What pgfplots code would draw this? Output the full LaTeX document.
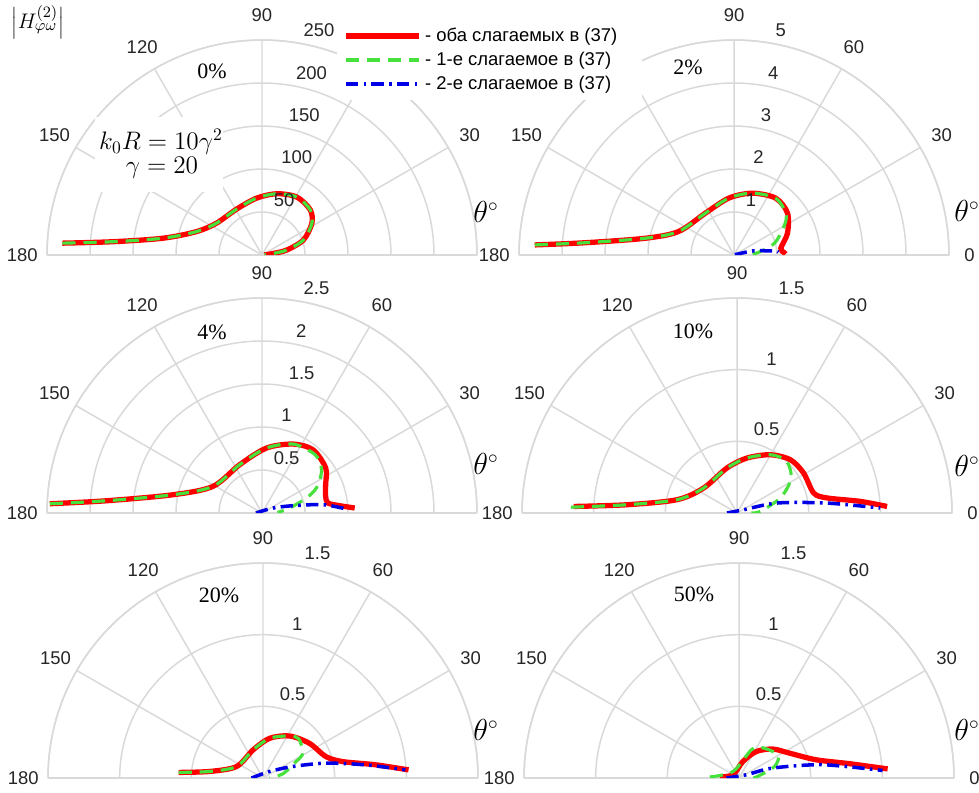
\documentclass[border=0pt]{standalone}
\usepackage{fontspec}
\setmainfont{Liberation Sans}
\newfontfamily\serif{Liberation Serif}
\usepackage{pgfplots}
\pgfplotsset{compat=1.18}
\usepgfplotslibrary{polar}

\newlength\px
\setlength\px{0.02cm}

\definecolor{gridgray}{RGB}{217,217,217}
\definecolor{ticktext}{RGB}{38,38,38}
\definecolor{cred}{RGB}{255,0,0}
\definecolor{cgreen}{RGB}{70,225,60}
\definecolor{cblue}{RGB}{0,0,230}

\newcommand\tickfont{\fontsize{10.5}{12}\selectfont}

\pgfplotsset{
  panel/.style={
    scale only axis, width=430\px, height=430\px, anchor=origin,
    xmin=0, xmax=180, ymin=0,
    xtick={0,30,...,180},
    xticklabels={}, yticklabels={},
    xmajorgrids, ymajorgrids,
    major grid style={draw=gridgray, line width=0.85pt},
    axis line style={draw=gridgray, line width=0.85pt},
    major tick length=0pt, minor tick length=0pt,
    clip mode=individual,
  },
  bothline/.style={draw=cred, line width=3pt, smooth, mark=none},
  first/.style={draw=cgreen, line width=1.8pt, dash pattern=on 7.5pt off 4.5pt, smooth, mark=none},
  second/.style={draw=cblue, line width=2pt, dash pattern=on 7pt off 3pt on 1.5pt off 3pt, smooth, mark=none},
}

% angle labels around the rim, #1 = rim radius in data units
\newcommand\anglabels[1]{%
  \pgfplotsinvokeforeach{30,60,90,120,150,180}{%
    \node[text=ticktext, font=\tickfont] at (axis cs:##1,{#1*1.115}) {##1};}}
\newcommand\zerolabel[1]{%
  \node[text=ticktext, font=\tickfont] at (axis cs:0,{#1*1.095}) {0};}
% radial labels along the 80 degree spoke
\newcommand\radlabels[1]{%
  \pgfplotsinvokeforeach{#1}{%
    \node[text=ticktext, font=\tickfont, anchor=south west, inner sep=0pt,
      xshift=4\px, yshift=6\px] at (axis cs:80,##1) {##1};}}

\begin{document}
\begin{tikzpicture}
\useasboundingbox (0,0) rectangle (979\px,-792\px);

% ---- 0% ----
\begin{polaraxis}[panel, at={(262\px,-255\px)}, ymax=250, ytick={50,100,150,200,250}]
  \addplot[bothline] coordinates {(176.6,232.5) (174.9,174) (170.4,117) (160.4,81) (145,64.6) (119,61) (95.3,66.5) (76.4,73.3) (59,78.6) (43.2,76.9) (32.5,68.8) (20,51.3) (11.4,29.4) (8,13) (3,3)};
  \addplot[first] coordinates {(176.6,232.5) (174.9,174) (170.4,117) (160.4,81) (145,64.6) (119,61) (95.3,66.5) (76.4,73.3) (59,78.6) (43.2,76.9) (32.5,68.8) (20,51.3) (11.4,29.4) (8,13) (3,3)};
  \anglabels{250}
  \radlabels{50,100,150,200,250}
\end{polaraxis}

% ---- 2% ----
\begin{polaraxis}[panel, at={(734\px,-255\px)}, ymax=5, ytick={1,2,3,4,5}]
  \addplot[bothline] coordinates {(177.1,4.64) (175.3,3.48) (169.3,2.10) (157,1.40) (124,1.18) (95,1.33) (73.5,1.50) (53.7,1.64) (38,1.58) (22,1.34) (8.2,1.10) (2.6,1.17) (1,1.2)};
  \addplot[first] coordinates {(177.1,4.64) (175.3,3.48) (169.3,2.10) (157,1.40) (124,1.18) (95,1.33) (73.5,1.50) (53.7,1.64) (40,1.56) (34,1.46) (27.4,1.27) (17.7,1.02) (11.4,0.79) (4,0.5) (0,0.35)};
  \addplot[second] coordinates {(20,0.02) (12.3,0.44) (7,0.8) (5.5,0.98) (3.5,1.03)};
  \anglabels{5}
  \zerolabel{5}
  \radlabels{1,2,3,4,5}
\end{polaraxis}

% ---- 4% ----
\begin{polaraxis}[panel, at={(262\px,-513\px)}, ymax=2.5, ytick={0.5,1,1.5,2,2.5}]
  \addplot[bothline] coordinates {(177.5,2.47) (175.5,1.815) (168.4,1.057) (151.5,0.649) (114.8,0.619) (86.1,0.757) (65.8,0.879) (51.1,0.945) (35.2,0.907) (24,0.81) (14.6,0.765) (8.6,0.776) (5.4,0.907) (3.1,1.08)};
  \addplot[first] coordinates {(177.5,2.47) (175.5,1.815) (168.4,1.057) (151.5,0.649) (114.8,0.619) (86.1,0.757) (65.8,0.879) (50,0.915) (41.8,0.9) (34,0.833) (24.7,0.696) (18.7,0.545) (10.2,0.327) (2,0.18)};
  \addplot[second] coordinates {(180,0.07) (24.4,0.14) (13.3,0.37) (7.8,0.716) (3.0,0.963)};
  \anglabels{2.5}
  \radlabels{0.5,1,1.5,2,2.5}
\end{polaraxis}

% ---- 10% ----
\begin{polaraxis}[panel, at={(737\px,-513\px)}, ymax=1.5, ytick={0.5,1,1.5}]
  \addplot[bothline] coordinates {(177.7,1.141) (175.7,0.770) (167.5,0.429) (143.2,0.291) (102.5,0.322) (79.7,0.390) (60.3,0.468) (45,0.526) (31,0.542) (14.6,0.553) (9.5,0.637) (5.4,0.864) (2.5,1.048)};
  \addplot[first] coordinates {(178,1.16) (175.7,0.770) (167.5,0.429) (143.2,0.291) (102.5,0.322) (79.7,0.390) (60.3,0.468) (48,0.5) (39,0.479) (30.7,0.433) (19.1,0.32) (4,0.163) (0,0.1)};
  \addplot[second] coordinates {(180,0.07) (26.6,0.05) (14,0.288) (6.3,0.632) (2,1.0)};
  \anglabels{1.5}
  \zerolabel{1.5}
  \radlabels{0.5,1,1.5}
\end{polaraxis}

% ---- 20% ----
\begin{polaraxis}[panel, at={(263\px,-778\px)}, ymax=1.5, ytick={0.5,1,1.5}]
  \addplot[bothline] coordinates {(176.2,0.59) (172.9,0.372) (156.4,0.201) (109.5,0.208) (80.5,0.281) (57.7,0.347) (36.9,0.404) (18.8,0.464) (11.7,0.566) (6.7,0.791) (3.2,1.017)};
  \addplot[first] coordinates {(176.2,0.59) (172.9,0.372) (156.4,0.201) (109.5,0.208) (80.5,0.281) (57.7,0.347) (47.5,0.37) (32,0.327) (26.4,0.258) (12,0.142) (0,0.046)};
  \addplot[second] coordinates {(180,0.08) (44.6,0.065) (21.1,0.223) (13.3,0.451) (7.3,0.722) (3.3,0.995)};
  \anglabels{1.5}
  \radlabels{0.5,1,1.5}
\end{polaraxis}

% ---- 50% ----
\begin{polaraxis}[panel, at={(739\px,-778\px)}, ymax=1.5, ytick={0.5,1,1.5}]
  \addplot[bothline] coordinates {(177,0.134) (151,0.048) (76.5,0.119) (56.8,0.221) (40.5,0.311) (26.2,0.393) (13.3,0.553) (7.4,0.777) (3.5,1.039)};
  \addplot[first] coordinates {(178,0.204) (132,0.062) (66.3,0.215) (53.8,0.264) (30.9,0.316) (18,0.261) (3.3,0.121) (0,0.08)};
  \addplot[second] coordinates {(180,0.088) (24,0.056) (16.4,0.247) (9,0.592) (3,1.003)};
  \anglabels{1.5}
  \zerolabel{1.5}
  \radlabels{0.5,1,1.5}
\end{polaraxis}

% white boxes
\fill[white] (337\px,-20\px) rectangle (642\px,-100\px);
\fill[white] (95\px,-117\px) rectangle (223\px,-192\px);

% legend
\begin{axis}[hide axis, scale only axis, width=10\px, height=10\px,
  at={(343\px,-24\px)}, anchor=north west,
  xmin=0, xmax=1, ymin=0, ymax=1,
  legend cell align=left,
  legend style={at={(0,1)}, anchor=north west, draw=none, fill=none,
    inner sep=0pt, row sep=0.5pt, font=\tickfont},
  legend image code/.code={\draw[#1] (0pt,0pt) -- (1.46cm,0pt);}]
  \addlegendimage{bothline}
  \addlegendentry{- оба слагаемых в (37)}
  \addlegendimage{first}
  \addlegendentry{- 1-е слагаемое в (37)}
  \addlegendimage{second}
  \addlegendentry{- 2-е слагаемое в (37)}
\end{axis}

% annotations
\node[anchor=north, inner sep=0pt] at (38\px,-5\px) {\fontsize{13}{15}\selectfont $\Bigl|H^{(2)}_{\varphi\omega}\Bigr|$};
\node at (161\px,-142\px) {\fontsize{14}{16}\selectfont $k_0R=10\gamma^2$};
\node at (162\px,-168\px) {\fontsize{14}{16}\selectfont $\gamma=20$};

\node[font=\serif\fontsize{12.5}{14}\selectfont] at (212\px,-71\px) {0\%};
\node[font=\serif\fontsize{12.5}{14}\selectfont] at (688\px,-67\px) {2\%};
\node[font=\serif\fontsize{12.5}{14}\selectfont] at (212\px,-332\px) {4\%};
\node[font=\serif\fontsize{12.5}{14}\selectfont] at (693\px,-331\px) {10\%};
\node[font=\serif\fontsize{12.5}{14}\selectfont] at (219\px,-595\px) {20\%};
\node[font=\serif\fontsize{12.5}{14}\selectfont] at (694\px,-594\px) {50\%};

\node at (486\px,-212\px) {\fontsize{16}{18}\selectfont $\theta^{\circ}$};
\node at (967\px,-211\px) {\fontsize{16}{18}\selectfont $\theta^{\circ}$};
\node at (486\px,-464\px) {\fontsize{16}{18}\selectfont $\theta^{\circ}$};
\node at (967\px,-466\px) {\fontsize{16}{18}\selectfont $\theta^{\circ}$};
\node at (486\px,-730\px) {\fontsize{16}{18}\selectfont $\theta^{\circ}$};
\node at (967\px,-730\px) {\fontsize{16}{18}\selectfont $\theta^{\circ}$};
\end{tikzpicture}
\end{document}
